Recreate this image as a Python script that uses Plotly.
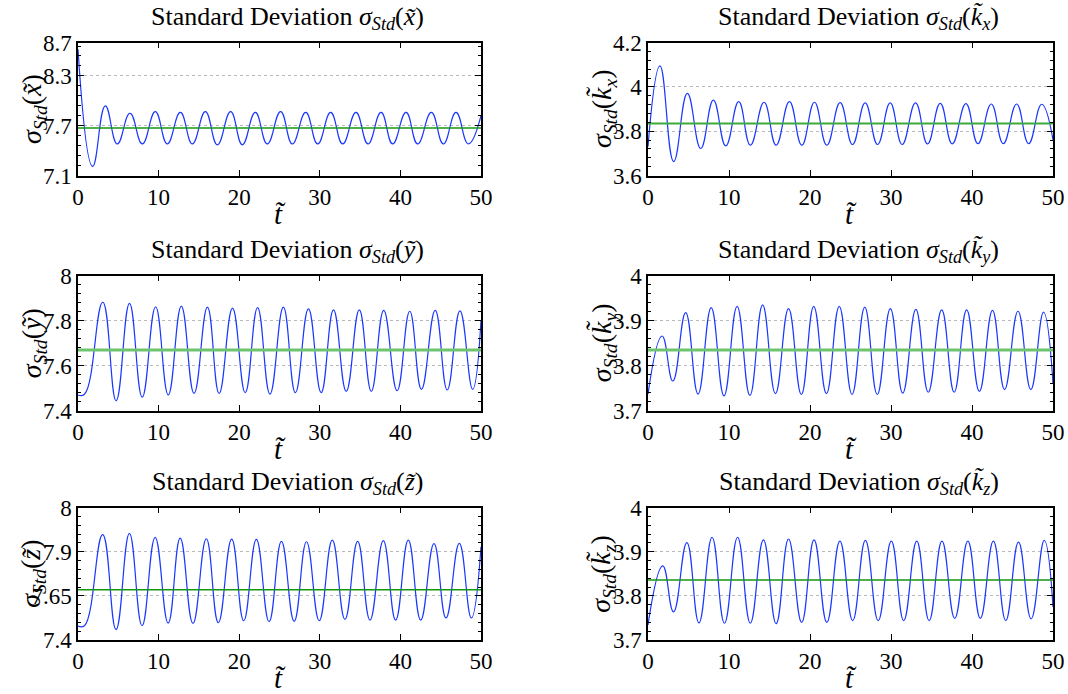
import plotly.graph_objects as go

# ---------------- data ----------------
t_x = [0, 1.82, 3.39, 4.88, 6.45, 7.98, 9.59, 11.08, 12.70, 14.19, 15.80, 17.29, 18.94, 20.39,
       22.0, 23.49, 25.14, 26.59, 28.25, 29.74, 31.35, 32.84, 34.49, 35.98, 37.6, 39.04, 40.7,
       42.14, 43.84, 45.33, 46.9, 48.43, 50]
sd_x = [8.62, 7.21, 7.94, 7.48, 7.85, 7.48, 7.87, 7.48, 7.86, 7.48, 7.87, 7.47, 7.87, 7.47,
        7.86, 7.48, 7.87, 7.48, 7.86, 7.48, 7.86, 7.48, 7.86, 7.48, 7.86, 7.48, 7.86,
        7.48, 7.86, 7.48, 7.86, 7.48, 7.82]
mean_x = 7.673

t_kx = [0, 1.48, 3.17, 4.86, 6.51, 8.07, 9.6, 11.2, 12.64, 14.33, 15.82, 17.46, 18.99, 20.55,
        22.08, 23.72, 25.25, 26.81, 28.34, 29.9, 31.38, 33.03, 34.51, 36.08, 37.56, 39.25,
        40.73, 42.38, 43.86, 45.51, 46.99, 48.6, 50]
sd_kx = [3.731, 4.095, 3.663, 3.971, 3.722, 3.941, 3.734, 3.934, 3.737, 3.931, 3.737, 3.934,
         3.737, 3.931, 3.737, 3.929, 3.740, 3.928, 3.740, 3.928, 3.740, 3.928, 3.743, 3.926,
         3.743, 3.925, 3.744, 3.923, 3.744, 3.923, 3.744, 3.922, 3.761]
mean_kx = 3.835

t_y = [0, 0.8, 3.07, 4.73, 6.39, 7.97, 9.63, 11.2, 12.82, 14.4, 16.06, 17.51, 19.17, 20.75,
       22.28, 23.82, 25.48, 26.97, 28.59, 30.17, 31.7, 33.28, 34.9, 36.39, 37.93, 39.59,
       41.16, 42.61, 44.32, 45.81, 47.39, 48.96, 50]
sd_y = [7.470, 7.473, 7.882, 7.444, 7.877, 7.460, 7.862, 7.470, 7.865, 7.477, 7.860, 7.477,
        7.856, 7.480, 7.858, 7.474, 7.860, 7.480, 7.853, 7.480, 7.848, 7.486, 7.848, 7.486,
        7.846, 7.489, 7.842, 7.495, 7.846, 7.492, 7.844, 7.495, 7.803]
mean_y = 7.670

t_ky = [0, 1.74, 3.07, 4.65, 6.18, 7.8, 9.38, 11.0, 12.58, 14.15, 15.73, 17.35, 18.93, 20.46,
        22.03, 23.61, 25.19, 26.76, 28.3, 29.92, 31.45, 33.07, 34.6, 36.26, 37.8, 39.34,
        40.91, 42.53, 44.02, 45.68, 47.26, 48.83, 50]
sd_ky = [3.737, 3.866, 3.766, 3.918, 3.737, 3.929, 3.733, 3.932, 3.734, 3.935, 3.738, 3.927,
         3.736, 3.932, 3.738, 3.932, 3.736, 3.930, 3.736, 3.927, 3.739, 3.925, 3.741, 3.924,
         3.741, 3.924, 3.743, 3.923, 3.747, 3.921, 3.747, 3.919, 3.761]
mean_ky = 3.835

t_z = [0, 0.8, 3.06, 4.72, 6.38, 7.95, 9.57, 11.19, 12.68, 14.26, 15.92, 17.41, 19.07, 20.56,
       22.13, 23.71, 25.24, 26.82, 28.35, 29.93, 31.55, 33.12, 34.7, 36.23, 37.88, 39.41,
       40.98, 42.52, 44.17, 45.66, 47.31, 48.8, 50]
sd_z = [7.479, 7.481, 7.997, 7.459, 8.004, 7.481, 7.982, 7.496, 7.978, 7.494, 7.974, 7.498,
        7.972, 7.509, 7.970, 7.504, 7.959, 7.506, 7.957, 7.509, 7.966, 7.517, 7.959, 7.513,
        7.963, 7.513, 7.966, 7.513, 7.946, 7.525, 7.948, 7.525, 7.929]
mean_z = 7.685

t_kz = [0, 1.82, 3.15, 4.8, 6.29, 7.91, 9.44, 11.06, 12.63, 14.25, 15.82, 17.35, 18.97, 20.5,
        22.08, 23.69, 25.27, 26.84, 28.42, 30.04, 31.57, 33.18, 34.71, 36.29, 37.87, 39.49,
        41.03, 42.64, 44.17, 45.74, 47.3, 48.92, 50]
sd_kz = [3.734, 3.868, 3.764, 3.921, 3.739, 3.933, 3.738, 3.933, 3.738, 3.927, 3.737, 3.929,
         3.740, 3.927, 3.740, 3.924, 3.744, 3.926, 3.744, 3.924, 3.744, 3.924, 3.744, 3.924,
         3.749, 3.924, 3.749, 3.924, 3.744, 3.922, 3.748, 3.926, 3.775]
mean_kz = 3.836

t_range = [0, 50]
x_ticks = [0, 10, 20, 30, 40, 50]

yticks_x = [7.1, 7.7, 8.3, 8.7]
ylabels_x = ["7.1", "7.7", "8.3", "8.7"]
yticks_kx = [3.6, 3.8, 4.0, 4.2]
ylabels_kx = ["3.6", "3.8", "4", "4.2"]
yticks_y = [7.4, 7.6, 7.8, 8.0]
ylabels_y = ["7.4", "7.6", "7.8", "8"]
yticks_ky = [3.7, 3.8, 3.9, 4.0]
ylabels_ky = ["3.7", "3.8", "3.9", "4"]
yticks_z = [7.4, 7.65, 7.9, 8.15]
ylabels_z = ["7.4", "7.65", "7.9", "8"]
yticks_kz = [3.7, 3.8, 3.9, 4.0]
ylabels_kz = ["3.7", "3.8", "3.9", "4"]

names = ["<i>x̃</i>", "<i>k̃<sub>x</sub></i>", "<i>ỹ</i>", "<i>k̃<sub>y</sub></i>",
         "<i>z̃</i>", "<i>k̃<sub>z</sub></i>"]

# ---------------- layout geometry ----------------
W, H = 1068, 694
def fx(x): return x / W
def fy(y): return 1 - y / H

cols = [(78, 481), (648, 1053)]
rows = [(42.7, 175.5), (275.7, 410.7), (507.7, 640.0)]

FONT = "Liberation Serif, Times New Roman, DejaVu Serif, serif"
BLUE = "rgb(25,55,255)"

panels = [
    # t, sd, mean, ticks, labels, minor dtick, row, col, green color, green width
    (t_x, sd_x, mean_x, yticks_x, ylabels_x, 0.12, 0, 0, "rgb(20,150,20)", 1.6),
    (t_kx, sd_kx, mean_kx, yticks_kx, ylabels_kx, 0.04, 0, 1, "rgb(60,170,60)", 2.2),
    (t_y, sd_y, mean_y, yticks_y, ylabels_y, 0.04, 1, 0, "rgb(110,195,110)", 3),
    (t_ky, sd_ky, mean_ky, yticks_ky, ylabels_ky, 0.02, 1, 1, "rgb(110,195,110)", 3),
    (t_z, sd_z, mean_z, yticks_z, ylabels_z, 0.05, 2, 0, "rgb(20,150,20)", 1.6),
    (t_kz, sd_kz, mean_kz, yticks_kz, ylabels_kz, 0.02, 2, 1, "rgb(20,150,20)", 1.6),
]

fig = go.Figure()
layout = dict(
    width=W, height=H, margin=dict(l=0, r=0, t=0, b=0, autoexpand=False),
    paper_bgcolor="white", plot_bgcolor="white", showlegend=False,
    font=dict(family=FONT, color="black"),
)
annotations = []

for i, (t, sd, mu, yt, yl, mdt, r, c, gcol, gw) in enumerate(panels):
    k = "" if i == 0 else str(i + 1)
    xa, ya = "x" + k, "y" + k
    x0, x1 = cols[c]
    y0, y1 = rows[r]
    fig.add_trace(go.Scatter(x=t, y=sd, mode="lines", xaxis=xa, yaxis=ya,
                             line=dict(color=BLUE, width=1.2, shape="spline", smoothing=1.3),
                             hoverinfo="skip"))
    fig.add_trace(go.Scatter(x=t_range, y=[mu, mu], mode="lines", xaxis=xa, yaxis=ya,
                             line=dict(color=gcol, width=gw), hoverinfo="skip"))
    layout["xaxis" + k] = dict(
        domain=[fx(x0), fx(x1)], anchor=ya, range=t_range, tickvals=x_ticks,
        ticks="inside", ticklen=6, tickwidth=1, tickcolor="black",
        showline=True, linecolor="black", linewidth=1.5, mirror="ticks",
        showgrid=False, zeroline=False, automargin=False,
        tickfont=dict(family=FONT, size=23, color="black"),
    )
    layout["yaxis" + k] = dict(
        domain=[fy(y1), fy(y0)], anchor=xa, range=[yt[0], yt[-1]],
        tickvals=yt, ticktext=yl,
        ticks="inside", ticklen=6, tickwidth=1, tickcolor="black",
        showline=True, linecolor="black", linewidth=1.5, mirror="ticks",
        showgrid=True, gridcolor="rgb(185,185,185)", griddash="dot", gridwidth=1,
        zeroline=False, automargin=False,
        minor=dict(ticks="inside", ticklen=3, tickcolor="black", dtick=mdt, tick0=yt[0],
                   showgrid=False),
        tickfont=dict(family=FONT, size=23, color="black"),
    )
    xc = (x0 + x1) / 2
    # subplot title
    annotations.append(dict(
        xref="paper", yref="paper", x=fx(xc + 8), y=fy(y0 - 25),
        xanchor="center", yanchor="middle", showarrow=False,
        text="Standard Deviation <i>σ<sub>Std</sub></i>(" + names[i] + ")",
        font=dict(family=FONT, size=26, color="black")))
    # x label
    annotations.append(dict(
        xref="paper", yref="paper", x=fx(xc), y=fy(y1 + 38),
        xanchor="center", yanchor="middle", showarrow=False,
        text="<i>t̃</i>", font=dict(family=FONT, size=29, color="black")))
    # y label
    annotations.append(dict(
        xref="paper", yref="paper", x=fx(x0 - 45), y=fy((y0 + y1) / 2),
        xanchor="center", yanchor="middle", showarrow=False, textangle=-90,
        text="<i>σ<sub>Std</sub></i>(" + names[i] + ")",
        font=dict(family=FONT, size=28, color="black")))

layout["annotations"] = annotations
fig.update_layout(**layout)
fig.write_html("out.html", post_script="document.body.style.margin='0px';")
